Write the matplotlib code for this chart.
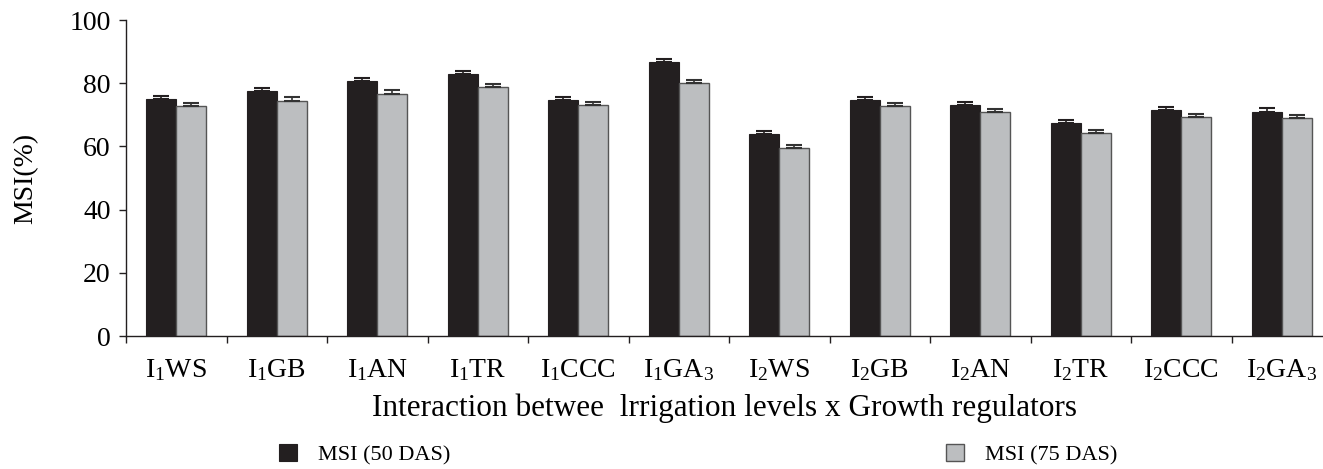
import numpy as np
import matplotlib.pyplot as plt
from matplotlib.ticker import FixedLocator, NullFormatter

plt.rcParams['font.family'] = ['Liberation Serif', 'DejaVu Serif']
plt.rcParams['mathtext.fontset'] = 'custom'
plt.rcParams['mathtext.rm'] = 'Liberation Serif'
plt.rcParams['mathtext.it'] = 'Liberation Serif'

# Data
treatments = [r'I$_\mathregular{1}$WS', r'I$_\mathregular{1}$GB', r'I$_\mathregular{1}$AN',
              r'I$_\mathregular{1}$TR', r'I$_\mathregular{1}$CCC', r'I$_\mathregular{1}$GA$_\mathregular{3}$',
              r'I$_\mathregular{2}$WS', r'I$_\mathregular{2}$GB', r'I$_\mathregular{2}$AN',
              r'I$_\mathregular{2}$TR', r'I$_\mathregular{2}$CCC', r'I$_\mathregular{2}$GA$_\mathregular{3}$']
msi_50 = [75.0, 77.6, 80.6, 83.0, 74.6, 86.7, 63.9, 74.6, 73.1, 67.3, 71.5, 71.0]
msi_75 = [72.7, 74.5, 76.7, 78.7, 73.1, 80.2, 59.4, 72.7, 70.9, 64.3, 69.4, 69.0]
err_50 = [1.0, 1.0, 1.0, 1.0, 1.0, 0.9, 1.0, 1.0, 1.0, 1.0, 1.0, 1.0]
err_75 = [1.0, 1.0, 1.0, 1.0, 1.0, 0.9, 1.0, 1.0, 1.0, 1.0, 1.0, 1.0]

BLACK = '#231f20'
GREY = '#bcbec0'
W = 0.3

fig = plt.figure(figsize=(13.23, 4.69), dpi=100)
ax = fig.add_axes([126 / 1323, 1 - 336 / 469, 1 - 126 / 1323, 316 / 469])

x = np.arange(len(treatments))
zeros = np.zeros(len(x))
b1 = ax.bar(x - W / 2, msi_50, W, color=BLACK, edgecolor=BLACK, linewidth=0.8,
            yerr=[zeros, err_50], error_kw=dict(ecolor=BLACK, elinewidth=1.2, capsize=6, capthick=1.5),
            label='MSI (50 DAS)', zorder=2)
b2 = ax.bar(x + W / 2, msi_75, W, color=GREY, edgecolor='#555555', linewidth=1.0,
            yerr=[zeros, err_75], error_kw=dict(ecolor='#333333', elinewidth=1.2, capsize=6, capthick=1.5),
            label='MSI (75 DAS)', zorder=2)

ax.set_ylim(0, 100)
ax.set_xlim(-0.5, -0.5 + (1323 - 126) / 100.5)
ax.set_yticks(np.arange(0, 101, 20))
ax.tick_params(axis='y', labelsize=20, length=5, width=1, pad=6, color=BLACK)

ax.xaxis.set_major_locator(FixedLocator(x))
ax.set_xticklabels(treatments)
ax.xaxis.set_minor_locator(FixedLocator(np.arange(-0.5, 11, 1.0)))
ax.xaxis.set_minor_formatter(NullFormatter())
ax.tick_params(axis='x', which='major', length=0, labelsize=20, pad=15)
ax.tick_params(axis='x', which='minor', length=5, width=1, color=BLACK)

for side in ['top', 'right']:
    ax.spines[side].set_visible(False)
for side in ['left', 'bottom']:
    ax.spines[side].set_linewidth(1.0)
    ax.spines[side].set_color(BLACK)

ax.set_ylabel('MSI(%)', fontsize=20, labelpad=22)
ax.set_xlabel('Interaction betwee  lrrigation levels x Growth regulators', fontsize=22.5, labelpad=8)

fig.legend(handles=[b1, b2], loc='center left', bbox_to_anchor=(279 / 1323, 1 - 455 / 469),
           ncol=2, frameon=False, fontsize=16, handlelength=0.8, handleheight=0.8,
           handletextpad=0.95, columnspacing=22.3, borderaxespad=0, borderpad=0)

plt.savefig('out.png', dpi=100)
